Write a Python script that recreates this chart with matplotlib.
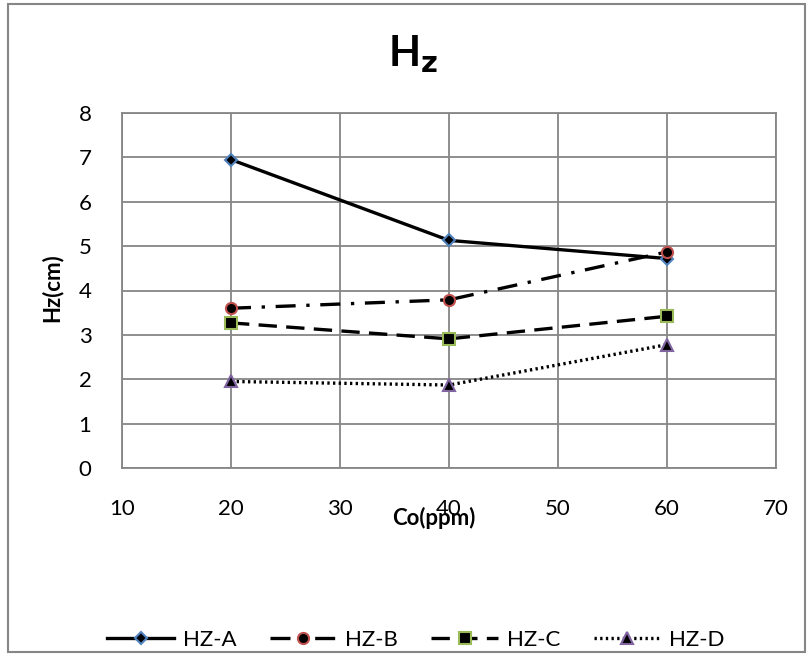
import matplotlib.pyplot as plt
from matplotlib.patches import Rectangle

plt.rcParams['font.family'] = ['Lato', 'DejaVu Sans']

co = [20, 40, 60]
hz_a = [6.95, 5.13, 4.72]
hz_b = [3.60, 3.79, 4.87]
hz_c = [3.27, 2.91, 3.42]
hz_d = [1.95, 1.87, 2.78]
names = ['HZ-A', 'HZ-B', 'HZ-C', 'HZ-D']

fig = plt.figure(figsize=(8.11, 6.57), dpi=100)
ax = fig.add_axes([122/811, 1 - 468/657, (776 - 122)/811, (468 - 113)/657])

grid_c = '#868686'
lw = 2.4
ax.plot(co, hz_a, color='black', lw=lw, ls='-', marker='D', ms=6,
        mfc='black', mec='#4F81BD', mew=1.5, label=names[0])
ax.plot(co, hz_b, color='black', lw=lw, ls=(0, (6, 3.2, 1, 3.2)), marker='o', ms=8,
        mfc='black', mec='#C0504D', mew=1.5, label=names[1])
ax.plot(co, hz_c, color='black', lw=lw, ls=(0, (5.5, 2.8)), marker='s', ms=8,
        mfc='black', mec='#9BBB59', mew=1.5, label=names[2])
ax.plot(co, hz_d, color='black', lw=lw, ls=(0, (0.7, 1.0)), marker='^', ms=8,
        mfc='black', mec='#8064A2', mew=1.5, label=names[3])

ax.set_xlim(10, 70)
ax.set_ylim(0, 8)
ax.set_xticks(range(10, 71, 10))
ax.set_yticks(range(0, 9))
ax.grid(True, color=grid_c, lw=1.3)
ax.set_axisbelow(True)
for s in ax.spines.values():
    s.set_color(grid_c)
    s.set_linewidth(1.3)
ax.tick_params(length=0, labelsize=16, pad=0)
ax.tick_params(axis='x', pad=22)
ax.tick_params(axis='y', pad=22)

fig.text(434/811, 1 - 518/657, 'Co(ppm)', fontsize=16, fontweight='bold',
         ha='center', va='center')
fig.text(52/811, 1 - 288/657, 'Hz(cm)', fontsize=16, fontweight='bold',
         ha='center', va='center', rotation=90)
fig.text(413/811, 1 - 54/657, r'H$_\mathbf{z}$', fontsize=30, fontweight='bold',
         ha='center', va='center')

fig.legend(loc='center', bbox_to_anchor=(416/811, 1 - 640/657), ncol=4, frameon=False,
           fontsize=16, handlelength=3.0, columnspacing=1.5, handletextpad=0.4)

fig.patches.append(Rectangle((8/811, 5/657), 797/811, 648/657, transform=fig.transFigure,
                             fill=False, edgecolor='#868686', lw=1.5))

fig.savefig('out.png', dpi=100)
